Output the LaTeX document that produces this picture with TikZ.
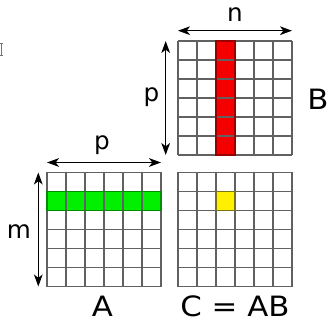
\documentclass[tikz,border=0pt]{standalone}
\usepackage{fontspec}
\usepackage{graphicx}
\setmainfont{DejaVu Sans}
\usetikzlibrary{arrows.meta}
\definecolor{cellgreen}{RGB}{0,240,0}
\definecolor{cellred}{RGB}{245,0,0}
\definecolor{cellyellow}{RGB}{255,240,0}
\newcommand{\widecap}[1]{\scalebox{1.1}[1]{#1}}
\begin{document}
\begin{tikzpicture}[x=0.75pt,y=-0.75pt,
  gridline/.style={draw=black!62, line width=0.9pt},
  dimarrow/.style={line width=1.1pt, {Stealth[length=9pt,width=6.5pt,inset=2.5pt]}-{Stealth[length=9pt,width=6.5pt,inset=2.5pt]}},
  lowlabel/.style={font=\fontsize{18.5}{20}\selectfont, inner sep=0pt, anchor=base},
  caplabel/.style={font=\fontsize{21}{24}\selectfont, inner sep=0pt, anchor=base}]
\useasboundingbox (0,0) rectangle (328,320);
% corners of the three matrices
\coordinate (Atl) at (47,172.5);  \coordinate (Abr) at (161,286.5);
\coordinate (Btl) at (178,41);    \coordinate (Bbr) at (292,155);
\coordinate (Ctl) at (178,172.5); \coordinate (Cbr) at (292,286.5);
% highlighted cells
\fill[cellgreen] (47,191.5) rectangle (161,210.5);
\fill[cellred] (216,41) rectangle (235,155);
\fill[cellyellow] (216,191.5) rectangle (235,210.5);
% grids
\foreach \ox/\oy in {47/172.5, 178/41, 178/172.5} {
  \foreach \i in {0,...,6} {
    \draw[gridline] (\ox+19*\i,\oy) -- (\ox+19*\i,\oy+114);
    \draw[gridline] (\ox,\oy+19*\i) -- (\ox+114,\oy+19*\i);
  }
}
\draw[green!55!black, line width=0.9pt] (47,191.5) rectangle (161,210.5);
\draw[red!60!black, line width=0.9pt] (216,41) rectangle (235,155);
\draw[olive!80!black, line width=0.9pt] (216,191.5) rectangle (235,210.5);
% dimension arrows
\coordinate (pAl) at (47,162.5);  \coordinate (pAr) at (161,162.5);
\coordinate (mAt) at (38.3,172.5); \coordinate (mAb) at (38.3,286.5);
\coordinate (pBt) at (165.7,41);  \coordinate (pBb) at (165.7,155);
\coordinate (nBl) at (178,30.7);  \coordinate (nBr) at (292,30.7);
\draw[dimarrow] (pAl) -- (pAr);
\draw[dimarrow] (mAt) -- (mAb);
\draw[dimarrow] (pBt) -- (pBb);
\draw[dimarrow] (nBl) -- (nBr);
% labels
\node[lowlabel] (lpA) at (102,150) {p};
\node[lowlabel] (lm) at (19,238.3) {m};
\node[lowlabel] (lpB) at (151.5,101.7) {p};
\node[lowlabel] (ln) at (235,21.7) {n};
\node[caplabel, anchor=base west] (lB) at (307,109.3) {\widecap{B}};
\node[caplabel] (lA) at (102.5,316) {\widecap{A}};
\node[caplabel] (lC) at (235,316) {\widecap{C = AB}};
% clipped mark at the left edge
\draw[black!55, line width=0.6pt] (0,43) -- (3,43) (1.8,43) -- (1.8,55) (0,55) -- (3,55);
\end{tikzpicture}
\end{document}
